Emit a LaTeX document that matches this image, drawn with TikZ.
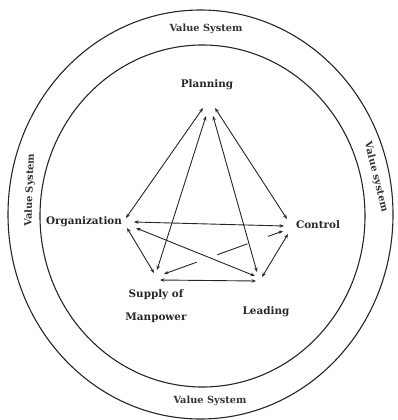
\documentclass[tikz,border=0pt]{standalone}
\usepackage{fontspec}
\setmainfont{DejaVu Serif}
\usetikzlibrary{arrows.meta}
\begin{document}
\begin{tikzpicture}[x=1pt,y=-1pt,
  ring/.style={draw=black!85,line width=1.1pt},
  lbl/.style={font=\bfseries\fontsize{10.4}{23}\selectfont,inner sep=0pt,text=black!85},
  vs/.style={font=\fontsize{9.8}{11}\selectfont\bfseries,inner sep=0pt,text=black!80},
  link/.style={draw=black!85,line width=0.9pt,{Stealth[length=4.5pt,width=3.5pt]}-{Stealth[length=4.5pt,width=3.5pt]}},
  dlink/.style={link,dash pattern=on 32pt off 22pt}]
\useasboundingbox (0,0) rectangle (398,420);
\draw[ring] (200.5,214.5) ellipse [x radius=192.5,y radius=204.5];
\draw[ring] (202.5,216) ellipse [x radius=162.5,y radius=171];
\node[vs] (vtop) at (206,29) {Value System};
\node[vs] (vbot) at (210,401) {Value System};
\node[vs,rotate=88] (vleft) at (30,190) {Value System};
\node[vs,rotate=-76] (vright) at (376,177) {Value system};
\node[lbl] (plan) at (207,85) {Planning};
\node[lbl] (org) at (84,222) {Organization};
\node[lbl] (ctrl) at (318,225) {Control};
\node[lbl,align=center] (sup) at (156,306) {Supply of\\Manpower};
\node[lbl] (lead) at (266,312) {Leading};
% endpoints
\coordinate (p1) at (203,108); \coordinate (p2) at (215,108);
\coordinate (p3) at (206,116); \coordinate (p4) at (213,116);
\coordinate (o1) at (126,218); \coordinate (o2) at (134,222);
\coordinate (o3) at (127,228); \coordinate (o4) at (136,228);
\coordinate (c1) at (287,219); \coordinate (c2) at (284,226);
\coordinate (c3) at (283,231); \coordinate (c4) at (288,234);
\coordinate (s1) at (157,270); \coordinate (s2) at (154,273);
\coordinate (s3) at (164,274); \coordinate (s4) at (160,280);
\coordinate (l1) at (257,272); \coordinate (l2) at (255,276);
\coordinate (l3) at (256,281); \coordinate (l4) at (262,277);
\draw[link] (p1) -- (o1);
\draw[link] (p2) -- (c1);
\draw[link] (p3) -- (s1);
\draw[link] (p4) -- (l1);
\draw[link] (o2) -- (c2);
\draw[link] (o4) -- (l2);
\draw[link] (o3) -- (s2);
\draw[dlink] (s3) -- (c3);
\draw[link] (s4) -- (l3);
\draw[link] (l4) -- (c4);
\end{tikzpicture}
\end{document}
